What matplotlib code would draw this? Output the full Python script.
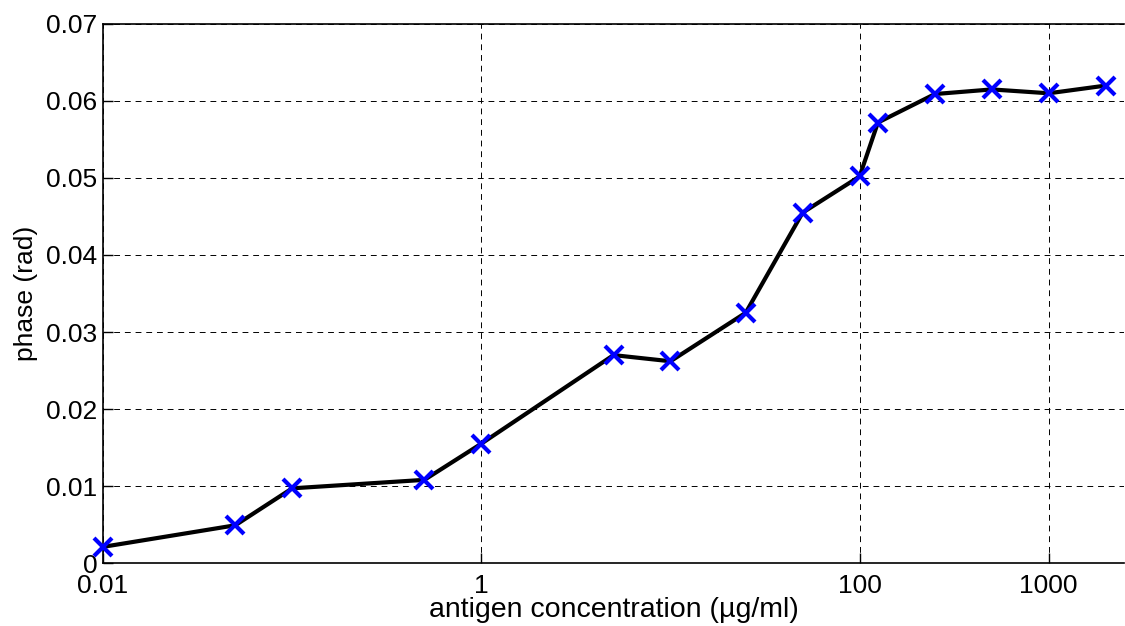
import matplotlib
matplotlib.use("Agg")
import matplotlib.pyplot as plt
from matplotlib.ticker import FixedLocator, FixedFormatter, NullLocator

plt.rcParams['font.family'] = ['Liberation Sans', 'DejaVu Sans']

concentration = [0.01, 0.05, 0.1, 0.5, 1, 5, 10, 25, 50, 100, 125, 250, 500, 1000, 2000]
phase = [0.0021, 0.0049, 0.0097, 0.0108, 0.0155, 0.0270, 0.0262, 0.0325, 0.0455,
         0.0502, 0.0572, 0.0609, 0.0615, 0.0610, 0.0620]
xticks = [0.01, 1, 100, 1000]
xticklabels = ['0.01', '1', '100', '1000']
yticks = [0, 0.01, 0.02, 0.03, 0.04, 0.05, 0.06, 0.07]
yticklabels = ['0', '0.01', '0.02', '0.03', '0.04', '0.05', '0.06', '0.07']

fig = plt.figure(figsize=(11.25, 6.26), dpi=100)
ax = fig.add_axes([0.0916, 0.1006, 0.9075, 0.8611])

ax.plot(concentration, phase, color='black', lw=3, zorder=3, clip_on=False)
ax.plot(concentration, phase, linestyle='none', marker='x', color='blue',
        markersize=12.5, markeredgewidth=3, zorder=4, clip_on=False)

ax.set_xscale('log')
ax.set_xlim(0.01, 2500)
ax.set_ylim(0, 0.07)
ax.xaxis.set_major_locator(FixedLocator(xticks))
ax.xaxis.set_major_formatter(FixedFormatter(xticklabels))
ax.xaxis.set_minor_locator(NullLocator())
ax.set_yticks(yticks)
ax.set_yticklabels(yticklabels)

ax.tick_params(axis='both', which='major', direction='in', length=7, width=1,
               labelsize=19)
ax.tick_params(axis='x', pad=8)
ax.tick_params(axis='y', pad=4)
ax.grid(True, color='black', linestyle=(0, (6, 5)), linewidth=0.7)

for s in ['left', 'bottom', 'top']:
    ax.spines[s].set_linewidth(1.2)
ax.spines['right'].set_visible(False)

ax.set_xlabel('antigen concentration (µg/ml)', fontsize=20.5, labelpad=-1)
ax.set_ylabel('phase (rad)', fontsize=19, labelpad=6)

fig.savefig('out.png', dpi=100)
